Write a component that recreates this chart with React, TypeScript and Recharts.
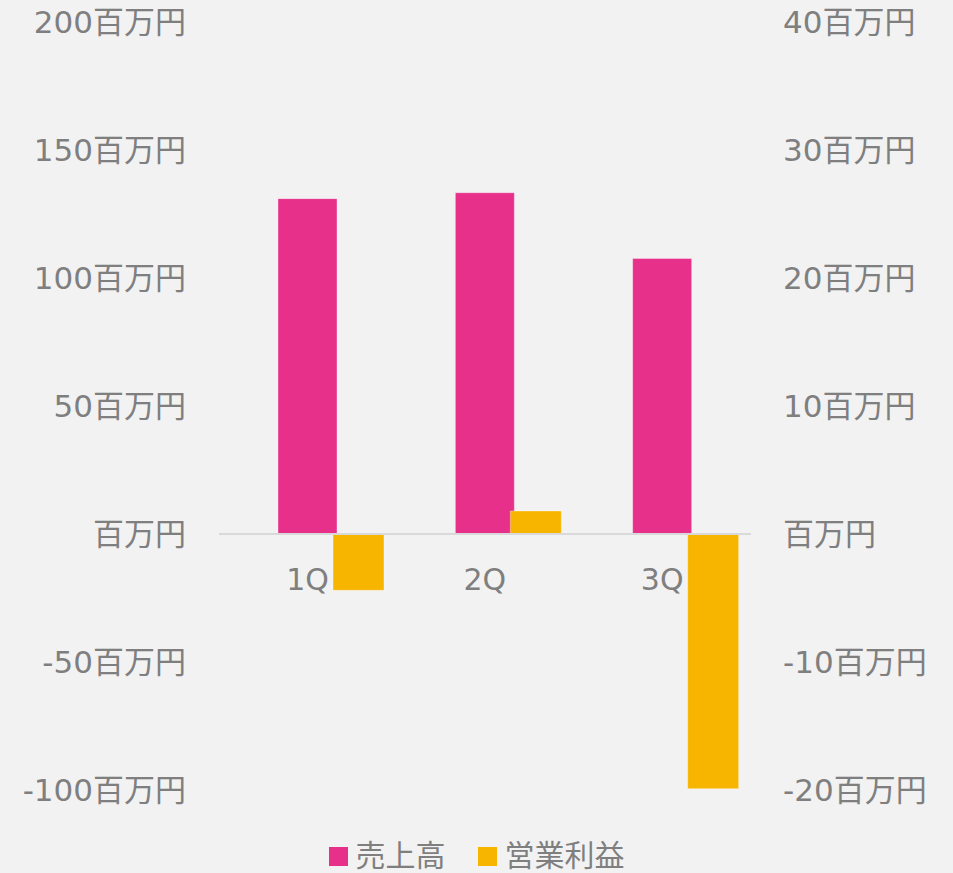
import React from "react";
import { BarChart, Bar, XAxis, YAxis, ReferenceLine, Legend, LabelList } from "recharts";

const quarters = ["1Q", "2Q", "3Q"];
const sales = [131.0, 133.3, 107.6];
const operatingProfit = [-4.4, 1.8, -19.9];
const leftTicks = [-100, -50, 0, 50, 100, 150, 200];
const rightTicks = [-20, -10, 0, 10, 20, 30, 40];
const seriesNames = ["売上高", "営業利益"];
const seriesColors = ["#E6308A", "#F8B500"];

const data = quarters.map((q, i) => ({ q, sales: sales[i], op: operatingProfit[i] }));

const FONT = "'DejaVu Sans', 'Noto Sans CJK JP', sans-serif";
const GRAY = "#7f7f7f";

const fmt = (v: number) => (v === 0 ? "百万円" : `${v}百万円`);

const CategoryLabel = (props: any) => {
  const { x, y, width, height, value } = props;
  const bottom = Number(y) + Number(height);
  return (
    <text
      x={Number(x) + Number(width) / 2}
      y={bottom + 45}
      dy="0.355em"
      textAnchor="middle"
      fill={GRAY}
      fontSize={30}
      fontFamily={FONT}
    >
      {value}
    </text>
  );
};

const LegendContent = () => (
  <div
    style={{
      height: 83,
      boxSizing: "border-box",
      paddingBottom: 3,
      display: "flex",
      alignItems: "flex-end",
      justifyContent: "center",
      fontFamily: FONT,
      fontSize: 30,
      color: GRAY,
    }}
  >
    {seriesNames.map((n, i) => (
      <div
        key={n}
        style={{ display: "flex", alignItems: "center", height: 28, marginLeft: i === 0 ? 0 : 32 }}
      >
        <span style={{ width: 19, height: 19, background: seriesColors[i], marginRight: 8, display: "inline-block" }} />
        <span style={{ lineHeight: "28px" }}>{n}</span>
      </div>
    ))}
  </div>
);

export default function App() {
  return (
    <div style={{ position: "absolute", left: 0, top: 0, width: 953, height: 873, background: "#f2f2f2" }}>
      <BarChart
        width={953}
        height={873}
        data={data}
        margin={{ top: 22, right: 0, bottom: 0, left: 0 }}
        barGap={-4}
        barCategoryGap={0}
      >
        <XAxis dataKey="q" hide />
        <YAxis
          yAxisId="left"
          orientation="left"
          width={219}
          domain={[-100, 200]}
          ticks={leftTicks}
          tickFormatter={fmt}
          axisLine={false}
          tickLine={false}
          tickSize={0}
          tickMargin={33}
          tick={{ fill: GRAY, fontSize: 31, fontFamily: FONT }}
          interval={0}
        />
        <YAxis
          yAxisId="right"
          orientation="right"
          width={202}
          domain={[-20, 40]}
          ticks={rightTicks}
          tickFormatter={fmt}
          axisLine={false}
          tickLine={false}
          tickSize={0}
          tickMargin={32}
          tick={{ fill: GRAY, fontSize: 31, fontFamily: FONT }}
          interval={0}
        />
        <ReferenceLine yAxisId="left" y={0} stroke="#d9d9d9" strokeWidth={2} />
        <Bar dataKey="pad" yAxisId="left" barSize={51} fill="transparent" legendType="none" isAnimationActive={false} />
        <Bar
          dataKey="sales"
          name={seriesNames[0]}
          yAxisId="left"
          barSize={59}
          fill={seriesColors[0]}
          stroke="#ffffff"
          strokeOpacity={0.35}
          strokeWidth={1}
          isAnimationActive={false}
        >
          <LabelList dataKey="q" content={CategoryLabel} />
        </Bar>
        <Bar
          dataKey="op"
          name={seriesNames[1]}
          yAxisId="right"
          barSize={51}
          fill={seriesColors[1]}
          stroke="#ffffff"
          strokeOpacity={0.35}
          strokeWidth={1}
          isAnimationActive={false}
        />
        <Legend verticalAlign="bottom" content={LegendContent} />
      </BarChart>
    </div>
  );
}
